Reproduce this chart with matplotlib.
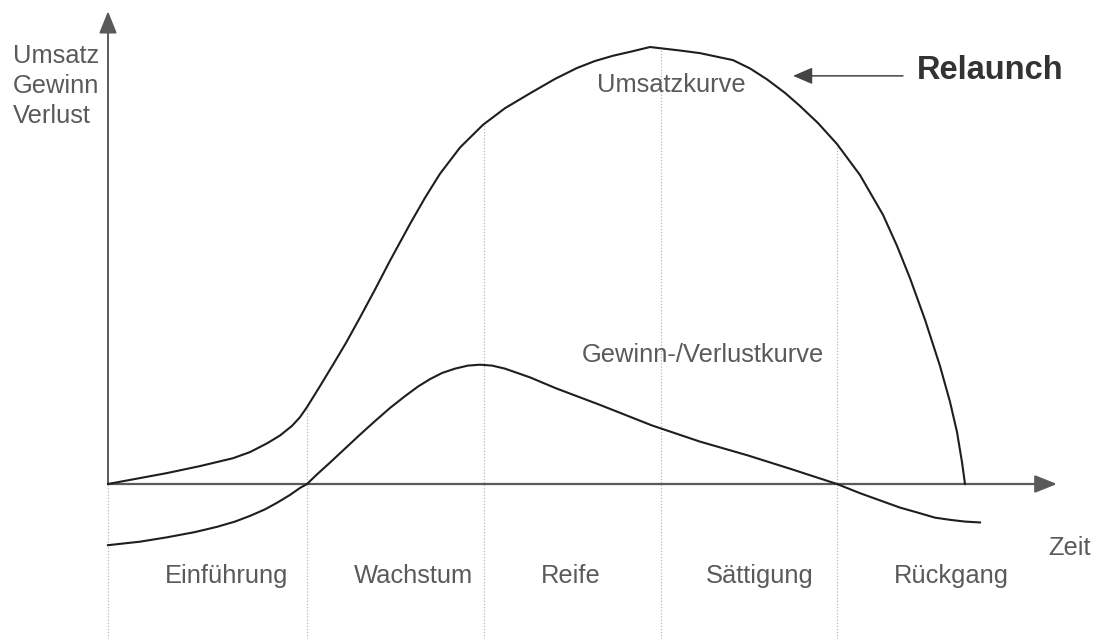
"""
plot.py — Produktlebenszyklus (Umsatz- und Gewinn-/Verlustkurve)

Run:
    python plot.py   ->  out.png
"""

import matplotlib
matplotlib.use("Agg")
import matplotlib.pyplot as plt
import numpy as np

# ── data (arbitrary units) ───────────────────────────────────────────────────
# Zeit in abstract units, Umsatz peak = 100
sales_t = [0, 5.9, 9.2, 12.5, 14.2, 15.9, 17.2, 18.4, 19.2, 19.9, 21.2, 22.5,
           23.8, 25.2, 26.7, 28.2, 30.2, 31.7, 33.2, 35.2, 37.5, 39.7, 42.2,
           44.7, 46.9, 48.7, 50.5, 52.4, 54.2, 57.2, 59.2, 62.5, 64.2, 65.9,
           67.7, 69.2, 71.0, 72.9, 75.2, 77.5, 78.9, 80.2, 81.7, 83.2, 84.2,
           84.9, 85.4, 85.7]
sales_v = [0, 2.5, 4.1, 5.9, 7.3, 9.3, 11.1, 13.3, 15.3, 17.6, 22.4, 27.3,
           32.3, 38.1, 44.5, 51.1, 59.5, 65.5, 71.0, 77.0, 82.2, 86.0, 89.4,
           92.7, 95.2, 96.8, 98.0, 99.0, 100, 99.2, 98.6, 97.0, 95.1, 92.6,
           89.5, 86.5, 82.6, 77.8, 70.7, 61.6, 54.5, 47.1, 37.6, 27.0, 18.8,
           11.9, 5.0, 0]

profit_t = [0, 3.2, 5.9, 8.7, 10.9, 12.7, 14.2, 15.7, 16.9, 18.2, 19.2, 19.9,
            20.9, 22.2, 23.7, 25.2, 26.7, 28.2, 29.7, 31.0, 32.2, 33.4, 34.7,
            36.0, 37.2, 38.4, 39.7, 42.2, 44.8, 49.2, 54.4, 59.2, 63.9, 68.2,
            72.9, 75.2, 77.5, 79.2, 80.9, 82.7, 84.2, 85.7, 87.2]
profit_v = [-14.0, -13.2, -12.2, -11.0, -9.8, -8.6, -7.3, -5.8, -4.3, -2.5,
            -0.9, 0, 2.2, 4.9, 8.1, 11.3, 14.4, 17.4, 20.1, 22.3, 24.0, 25.4,
            26.4, 27.1, 27.3, 27.1, 26.4, 24.4, 21.9, 18.1, 13.4, 9.7, 6.6,
            3.5, 0, -2.1, -4.0, -5.4, -6.5, -7.7, -8.2, -8.6, -8.8]

phase_bounds = [0, 19.9, 37.6, 55.3, 72.9]
phase_labels = ["Einführung", "Wachstum", "Reife", "Sättigung", "Rückgang"]
phase_label_t = [11.9, 30.5, 46.3, 65.2, 84.3]

# ── style ────────────────────────────────────────────────────────────────────
FONT      = "Liberation Sans"
TXT_COL   = "#5a5a5a"
AXIS_COL  = "#5a5a5a"
CURVE_COL = "#1e1e1e"
FS        = 18.4

X_MIN, X_MAX = -10.8, 98.8        # 10 px per unit
Y_MIN, Y_MAX = -35.47, 110.76     # 4.37 px per unit


def main():
    fig = plt.figure(figsize=(10.96, 6.39), dpi=100)
    ax = fig.add_axes([0, 0, 1, 1])
    ax.set_xlim(X_MIN, X_MAX)
    ax.set_ylim(Y_MIN, Y_MAX)
    ax.axis("off")

    # phase dividers, dotted, from bottom up to the sales curve
    tops = np.interp(phase_bounds, sales_t, sales_v)
    ax.vlines(phase_bounds, Y_MIN, tops, colors="#b8b8b8",
              linestyles=(0, (1, 1.5)), linewidth=0.9, zorder=1)

    # axes with arrows
    ax.annotate("", xy=(0, 108.2), xytext=(0, 0),
                arrowprops=dict(arrowstyle="-|>,head_length=0.75,head_width=0.3",
                                color=AXIS_COL, lw=1.4, shrinkA=0, shrinkB=0,
                                mutation_scale=18), zorder=2)
    ax.annotate("", xy=(94.9, 0), xytext=(0, 0),
                arrowprops=dict(arrowstyle="-|>,head_length=0.75,head_width=0.3",
                                color=AXIS_COL, lw=1.6, shrinkA=0, shrinkB=0,
                                mutation_scale=18), zorder=2)

    # curves
    ax.plot(sales_t, sales_v, color=CURVE_COL, lw=1.5, zorder=3,
            solid_joinstyle="round")
    ax.plot(profit_t, profit_v, color=CURVE_COL, lw=1.5, zorder=3,
            solid_joinstyle="round")

    # texts
    ax.text(-9.5, 100.8, "Umsatz\nGewinn\nVerlust", fontfamily=FONT,
            fontsize=FS, color=TXT_COL, ha="left", va="top", linespacing=1.32)
    ax.text(48.9, 91.3, "Umsatzkurve", fontfamily=FONT, fontsize=FS,
            color=TXT_COL, ha="left", va="center")
    ax.text(47.4, 29.5, "Gewinn-/Verlustkurve", fontfamily=FONT, fontsize=FS,
            color=TXT_COL, ha="left", va="center")
    ax.text(94.0, -14.7, "Zeit", fontfamily=FONT, fontsize=FS,
            color=TXT_COL, ha="left", va="center")
    for t, lab in zip(phase_label_t, phase_labels):
        ax.text(t, -21.0, lab, fontfamily=FONT, fontsize=FS,
                color=TXT_COL, ha="center", va="center")

    # Relaunch with arrow
    ax.text(80.9, 94.7, "Relaunch", fontfamily=FONT, fontsize=23.5,
            fontweight="bold", color="#333333", ha="left", va="center")
    ax.annotate("", xy=(68.5, 93.4), xytext=(79.5, 93.4),
                arrowprops=dict(arrowstyle="-|>,head_length=0.7,head_width=0.3",
                                color="#444444", lw=1.1, shrinkA=0, shrinkB=0,
                                mutation_scale=17))

    fig.savefig("out.png", dpi=100, facecolor="white")
    plt.close(fig)


if __name__ == "__main__":
    main()
